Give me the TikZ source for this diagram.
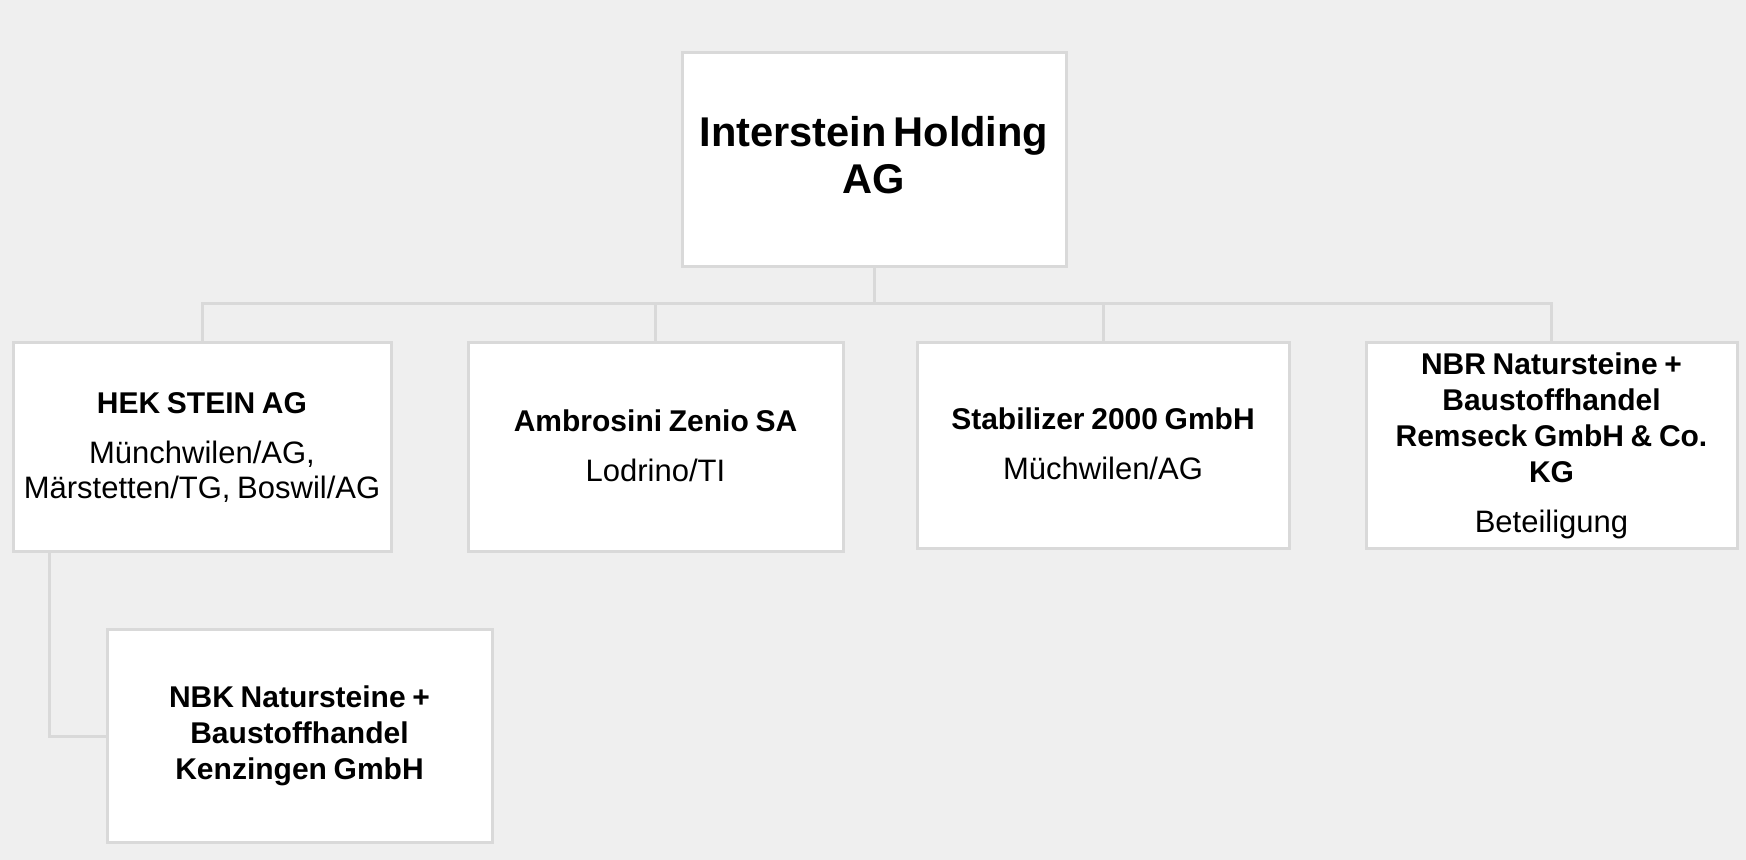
\documentclass[tikz,border=0pt]{standalone}
\usepackage{fontspec}
\setmainfont{Liberation Sans}
\definecolor{bg}{HTML}{EFEFEF}
\definecolor{ln}{HTML}{D9D9D9}
\tikzset{
  box/.style={draw=ln, line width=1.5pt, fill=white, align=center, inner sep=0pt, outer sep=0pt},
  conn/.style={draw=ln, line width=1.5pt},
}
\newcommand{\ttl}[1]{{\bfseries\fontsize{15}{18}\selectfont #1\par}}
\newcommand{\sub}[1]{\vspace{7.5pt}{\fontsize{15.5}{17.7}\selectfont #1\par}}
\newcommand{\lift}[1]{\par\nointerlineskip\kern#1\hbox{}}
\begin{document}
\begin{tikzpicture}[x=0.5pt,y=-0.5pt]
\fill[bg] (0,0) rectangle (1746,860);
\useasboundingbox (0,0) rectangle (1746,860);

\node[box, minimum width=192pt, minimum height=107pt, text width=186pt] (top) at (874,160)
  {{\bfseries\fontsize{20.8}{23.5}\selectfont Interstein Holding\\AG\par}\lift{5pt}};

\node[box, minimum width=189pt, minimum height=104.5pt, text width=186pt] (hek) at (202,447.5)
  {\ttl{HEK STEIN AG}\sub{Münchwilen/AG,\\Märstetten/TG, Boswil/AG}};
\node[box, minimum width=187.5pt, minimum height=104.5pt, text width=183pt] (amb) at (655.5,447.5)
  {\ttl{Ambrosini Zenio SA}\sub{Lodrino/TI}\lift{2pt}};
\node[box, minimum width=186pt, minimum height=103pt, text width=182pt] (stab) at (1103,446)
  {\ttl{Stabilizer 2000 GmbH}\sub{Müchwilen/AG}\lift{2pt}};
\node[box, minimum width=185.5pt, minimum height=103pt, text width=182pt] (nbr) at (1551.5,446)
  {\ttl{NBR Natursteine +\\Baustoffhandel\\Remseck GmbH \& Co.\\KG}\sub{Beteiligung}};
\node[box, minimum width=192.5pt, minimum height=106pt, text width=188pt] (nbk) at (299.5,736)
  {\ttl{NBK Natursteine +\\Baustoffhandel\\Kenzingen GmbH}};

\coordinate (bus) at (875,304);
\draw[conn] (top.south) -- (top.south |- bus);
\foreach \n in {hek,amb,stab,nbr}
  \draw[conn] (\n.north) |- (top.south |- bus);
\draw[conn] ([xshift=18pt]hek.south west) |- (nbk.west);
\end{tikzpicture}
\end{document}
